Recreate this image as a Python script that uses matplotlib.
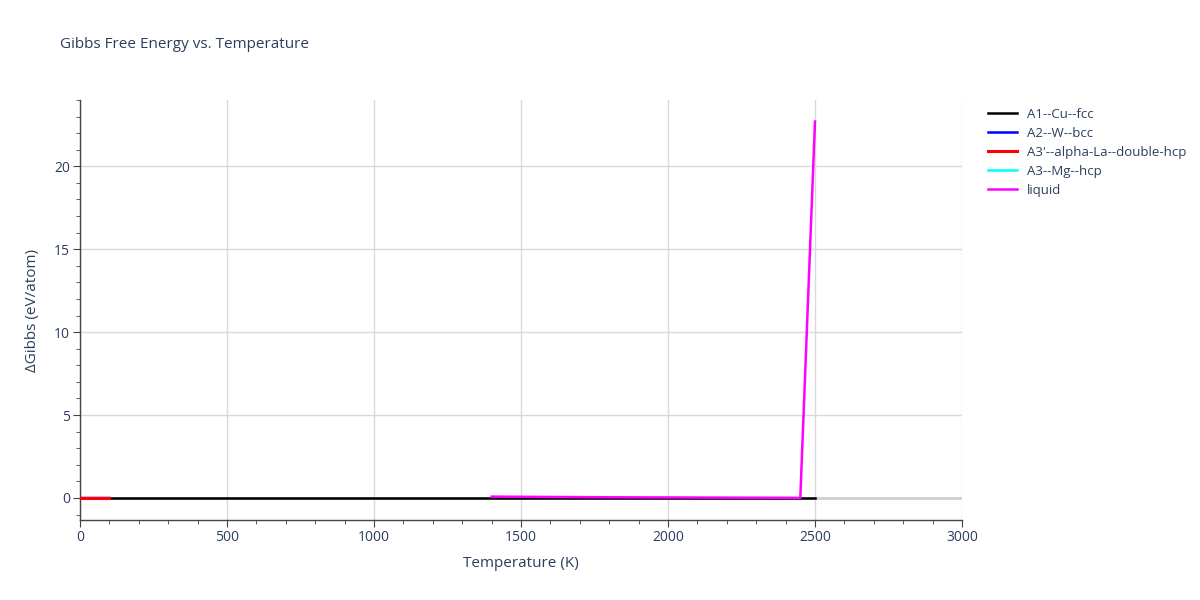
import numpy as np
import matplotlib.pyplot as plt
from matplotlib.ticker import MultipleLocator

plt.rcParams['font.family'] = ['Open Sans', 'DejaVu Sans']

# data
cu_T = [0, 2500]
cu_G = [0.0, 0.0]
w_T = [0, 100]
w_G = [0.03, 0.03]
la_T = [0, 100]
la_G = [0.0, 0.0]
mg_T = [0, 100]
mg_G = [0.0, 0.0]
liq_T = [1400, 1600, 1800, 2000, 2200, 2400, 2450, 2500]
liq_G = [0.08, 0.06, 0.04, 0.03, 0.02, 0.01, 0.0, 22.7]

text_col = '#2a3f5f'
grid_col = '#d9d9d9'

fig = plt.figure(figsize=(12, 6), dpi=100)
ax = fig.add_axes([80 / 1200, 80 / 600, 882 / 1200, 420 / 600])

ax.axhline(0, color='#d0d0d0', lw=2, zorder=1)
ax.plot(cu_T, cu_G, color='black', lw=1.8, label='A1--Cu--fcc', zorder=3)
ax.plot(w_T, w_G, color='blue', lw=1.8, label='A2--W--bcc', alpha=0.35, zorder=3)
ax.plot(la_T, la_G, color='red', lw=2.2, label="A3'--alpha-La--double-hcp", zorder=4)
ax.plot(mg_T, mg_G, color='cyan', lw=1.8, label='A3--Mg--hcp', zorder=2)
ax.plot(liq_T, liq_G, color='magenta', lw=1.8, label='liquid', zorder=4)

ax.set_xlim(0, 3000)
ax.set_ylim(-1.33, 24)
ax.xaxis.set_major_locator(MultipleLocator(500))
ax.xaxis.set_minor_locator(MultipleLocator(100))
ax.yaxis.set_major_locator(MultipleLocator(5))
ax.yaxis.set_minor_locator(MultipleLocator(1))
ax.grid(True, which='major', color=grid_col, lw=1, zorder=0)
ax.set_axisbelow(True)

for s in ['top', 'right']:
    ax.spines[s].set_visible(False)
for s in ['left', 'bottom']:
    ax.spines[s].set_color('#444444')
    ax.spines[s].set_linewidth(1)

ax.tick_params(which='major', direction='out', length=5, color='#444444',
               labelcolor=text_col, labelsize=10, pad=2)
ax.tick_params(which='minor', direction='out', length=3, color='#444444')

ax.set_xlabel('Temperature (K)', color=text_col, fontsize=11, labelpad=8)
ax.set_ylabel('ΔGibbs (eV/atom)', color=text_col, fontsize=11, labelpad=10)

fig.text(60 / 1200, 1 - 45 / 600, 'Gibbs Free Energy vs. Temperature',
         color=text_col, fontsize=11, va='center', ha='left')

leg = ax.legend(loc='upper left', bbox_to_anchor=(1.02, 1.0), frameon=False,
                fontsize=9.5, handlelength=2.2, labelspacing=0.45,
                borderaxespad=0.2)
for t in leg.get_texts():
    t.set_color(text_col)
for l in leg.get_lines():
    l.set_alpha(1)

fig.savefig('out.png', dpi=100)
